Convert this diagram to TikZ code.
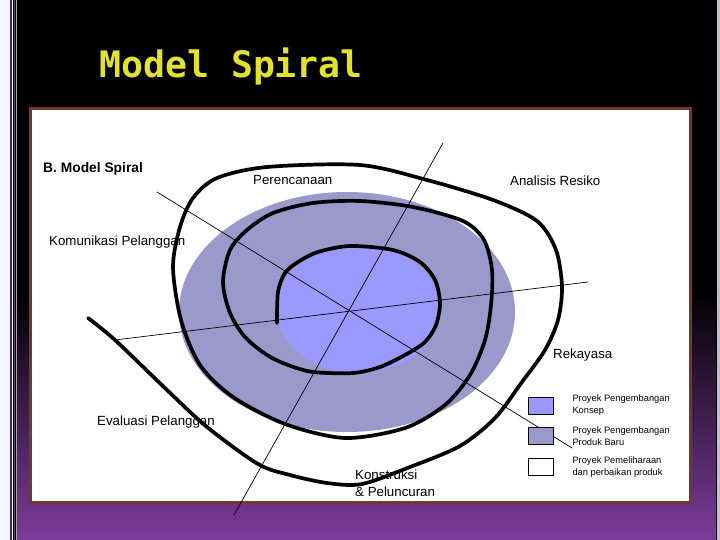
\documentclass[tikz,border=0pt]{standalone}
\usepackage{fontspec}
\setmainfont{Liberation Sans}
\newfontfamily\titlefont{DejaVu Sans Mono}
\usetikzlibrary{positioning}
\definecolor{conceptblue}{RGB}{153,153,255}
\definecolor{productblue}{RGB}{153,153,204}
\definecolor{framebrown}{RGB}{112,58,42}
\definecolor{deeppurple}{RGB}{124,60,154}
\definecolor{titleyellow}{RGB}{226,226,46}
\definecolor{stripedark}{RGB}{60,40,82}
\definecolor{stripemid}{RGB}{92,66,116}
\definecolor{edgelavender}{RGB}{196,188,208}

\begin{document}
\begin{tikzpicture}[x=1pt,y=-1pt,
  spiral/.style={line width=3.7pt,line cap=round,line join=round},
  axis/.style={line width=0.7pt},
  phase/.style={font=\fontsize{13.3}{16}\selectfont,inner sep=0pt,anchor=base west},
  legendbox/.style={draw,line width=0.6pt,minimum width=25pt,minimum height=17pt,inner sep=0pt},
  legendtext/.style={font=\fontsize{9.3}{12}\selectfont,align=left,inner sep=0pt,anchor=west}]
\useasboundingbox (0,0) rectangle (720,540);
\fill[black] (0,0) rectangle (720,540);
\shade[top color=black,bottom color=deeppurple] (17,290) rectangle (716,540);
\fill[white!96!blue] (0,0) rectangle (9.5,540);
\draw[stripedark,line width=2pt] (10.5,0) -- (10.5,540);
\draw[white,line width=1.5pt] (12.5,0) -- (12.5,540);
\draw[stripemid,line width=1.5pt] (14.5,0) -- (14.5,540);
\draw[gray!70,line width=1pt] (16.2,0) -- (16.2,540);
\fill[edgelavender] (716.5,0) rectangle (720,540);
\node[font=\titlefont\bfseries\fontsize{36.5}{40}\selectfont,text=titleyellow,inner sep=0pt,anchor=base west] (title) at (99,78) {Model Spiral};
\filldraw[fill=white,draw=framebrown,line width=3pt] (30.5,108.5) rectangle (690.5,502.5);

\fill[productblue] (347,312) ellipse [x radius=168,y radius=120];
\fill[conceptblue] (358,309) ellipse [x radius=82,y radius=64];

\coordinate (axisA1) at (157,192);
\coordinate (axisA2) at (572,448);
\coordinate (axisB1) at (443,143);
\coordinate (axisB2) at (234,515);
\coordinate (axisC1) at (115,340);
\coordinate (axisC2) at (588,282);
\draw[axis] (axisA1) -- (axisA2);
\draw[axis] (axisB1) -- (axisB2);
\draw[axis] (axisC1) -- (axisC2);

\draw[spiral] plot[smooth,tension=0.5] coordinates {
  (277,323) (278,292) (285,273) (298,262) (318,252) (350,246) (393,250)
  (420,262) (435,280) (440,303) (436,325) (425,342) (405,355) (380,367)
  (353,373) (313,372) (288,365) (267,355) (245,337) (230,313) (223,282)
  (230,250) (247,230) (273,213) (313,203) (360,201) (413,207) (463,221)
  (484,240) (492,270) (491,305) (485,340) (470,375) (445,405) (405,428)
  (345,438) (285,424) (233,397) (200,365) (181,320) (173,267) (180,227)
  (193,198) (217,178) (267,167) (360,165) (427,180) (493,200) (537,221)
  (556,250) (562,287) (558,320) (545,350) (522,382) (495,418) (460,446)
  (410,467) (362,484) (327,483) (290,475) (258,464) (207,427) (167,390)
  (115,340) (88,318)};

\node[font=\bfseries\fontsize{13.8}{16}\selectfont,inner sep=0pt,anchor=base west] (heading) at (43,173) {B. Model Spiral};
\node[phase] (perencanaan) at (253,185) {Perencanaan};
\node[phase] (analisis) at (510,186) {Analisis Resiko};
\node[phase] (komunikasi) at (49,245) {Komunikasi Pelanggan};
\node[phase] (rekayasa) at (553,358) {Rekayasa};
\node[phase] (evaluasi) at (97,425) {Evaluasi Pelanggan};
\node[phase] (konstruksi) at (355,479) {Konstruksi};
\node[phase] (peluncuran) at (355,496) {\& Peluncuran};

\node[legendbox,fill=conceptblue] (konsep) at (540.5,405.5) {};
\node[legendbox,fill=productblue,below=13pt of konsep] (produkbaru) {};
\node[legendbox,fill=white,below=13pt of produkbaru] (pemeliharaan) {};
\node[legendtext,right=19pt of konsep] (konsepText) {Proyek Pengembangan\\Konsep};
\node[legendtext,right=19pt of produkbaru] (produkbaruText) {Proyek Pengembangan\\Produk Baru};
\node[legendtext,right=19pt of pemeliharaan] (pemeliharaanText) {Proyek Pemeliharaan\\dan perbaikan produk};
\end{tikzpicture}
\end{document}
